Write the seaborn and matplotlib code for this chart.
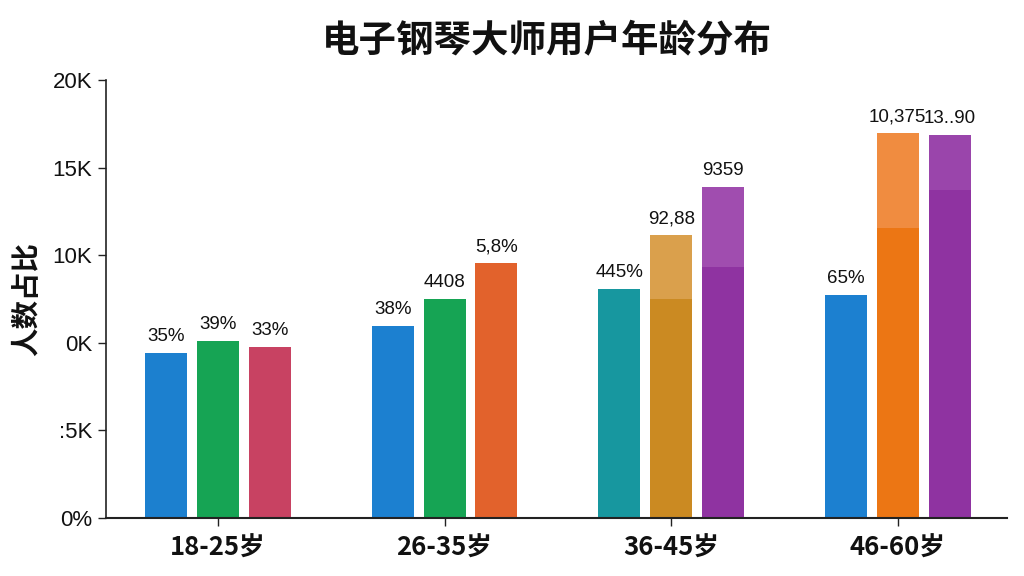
import pandas as pd
import matplotlib
matplotlib.use('Agg')
import matplotlib.pyplot as plt
import seaborn as sns

# data
age_groups = ['18-25岁', '26-35岁', '36-45岁', '46-60岁']
series = ['a', 'b', 'c']
values_a = [9420, 10980, 13070, 12730]
values_b = [10100, 12480, 16150, 21970]
values_c = [9760, 14540, 18890, 21860]
labels_a = ['35%', '38%', '445%', '65%']
labels_b = ['39%', '4408', '92,88', '10,375']
labels_c = ['33%', '5,8%', '9359', '13..90']
# value where the lighter top band of a bar begins (None = no band)
band_a = [None, None, None, None]
band_b = [None, None, 12500, 16550]
band_c = [None, None, 14330, 18720]

y_ticks = [0, 5000, 10000, 15000, 20000, 25000]
y_tick_labels = ['0%', ':5K', '0K', '10K', '15K', '20K']

colors_a = ['#1c80cf', '#1c80d0', '#17979f', '#1c80d0']
colors_b = ['#16a454', '#16a454', '#cb8a22', '#ec7614']
colors_c = ['#c84262', '#e2622c', '#8f33a1', '#8f33a1']
band_colors_b = [None, None, '#daa04c', '#f08c40']
band_colors_c = [None, None, '#a04daf', '#9a45ab']

df = pd.DataFrame({
    'age': age_groups * 3,
    'series': [s for s in series for _ in age_groups],
    'value': values_a + values_b + values_c,
})

sns.set_theme(style='white')
latin = ['Liberation Sans', 'Noto Sans CJK SC', 'DejaVu Sans']
cjk = ['Noto Sans CJK SC', 'DejaVu Sans']
plt.rcParams['font.family'] = latin

fig = plt.figure(figsize=(10.24, 5.76), dpi=100)
ax = fig.add_axes([0.1035, 0.1007, 0.8795, 0.7603])

sns.barplot(data=df, x='age', y='value', hue='series', hue_order=series,
            order=age_groups, width=0.687, gap=0.19, legend=False,
            errorbar=None, ax=ax)

all_colors = [colors_a, colors_b, colors_c]
all_labels = [labels_a, labels_b, labels_c]
all_bands = [band_a, band_b, band_c]
all_band_colors = [[None] * 4, band_colors_b, band_colors_c]

containers = list(ax.containers)
for k, container in enumerate(containers):
    for i, bar in enumerate(container):
        bar.set_facecolor(all_colors[k][i])
        bar.set_edgecolor('none')
        top = bar.get_height()
        if all_bands[k][i] is not None:
            ax.bar(bar.get_x() + bar.get_width() / 2, top - all_bands[k][i],
                   bottom=all_bands[k][i], width=bar.get_width(),
                   color=all_band_colors[k][i], linewidth=0)
        ax.text(bar.get_x() + bar.get_width() / 2, top + 450, all_labels[k][i],
                ha='center', va='bottom', fontsize=13.5, color='#111111')

ax.set_xlim(-0.494, 3.48)
ax.set_ylim(0, 25000)
ax.set_yticks(y_ticks)
ax.set_yticklabels(y_tick_labels)
ax.tick_params(axis='y', labelsize=16, length=6, width=1, color='#222222',
               labelcolor='#111111', pad=4, left=True)
ax.tick_params(axis='x', length=6, width=1, color='#222222',
               labelcolor='#111111', pad=6, bottom=True)
for lab in ax.get_xticklabels():
    lab.set_family(cjk)
    lab.set_fontsize(18.5)
    lab.set_fontweight('bold')

sns.despine(ax=ax, top=True, right=True)
ax.spines['left'].set_color('#222222')
ax.spines['bottom'].set_color('#222222')
ax.spines['left'].set_linewidth(1.2)
ax.spines['bottom'].set_linewidth(1.5)

ax.set_xlabel('')
ax.set_ylabel('人数占比', fontsize=20.5, fontweight='bold', color='#111111',
              labelpad=8, family=cjk)
fig.suptitle('电子钢琴大师用户年龄分布', fontsize=27, fontweight='bold',
             color='#111111', x=0.534, y=0.965, family=cjk)

fig.savefig('out.png', dpi=100, facecolor='white')
